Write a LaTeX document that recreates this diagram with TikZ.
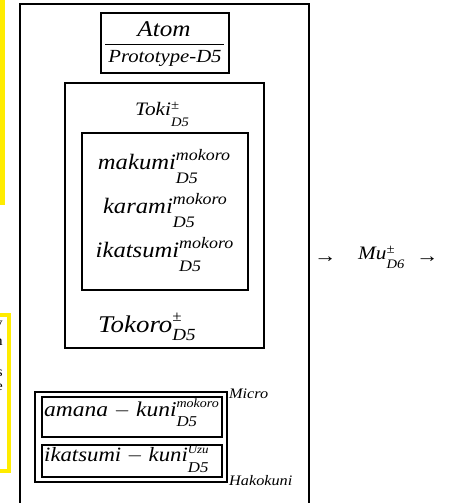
\documentclass[tikz,border=0pt]{standalone}
\usepackage{fontspec}
\setmainfont[FakeStretch=1.12]{Liberation Serif}
\definecolor{hlyellow}{RGB}{255,236,0}
\newcommand\fs[1]{\fontsize{#1}{#1}\selectfont}
% base size, base text, script size, sup, sub, sup raise, sub lower
\newcommand\SupSub[7]{{\fs{#1}\itshape #2}%
  \setbox0=\hbox{\raisebox{#6}{\fs{#3}\itshape #4}}%
  \setbox2=\hbox{\raisebox{-#7}{\fs{#3}\itshape #5}}%
  \ifdim\wd0>\wd2 \rlap{\box2}\box0\else\rlap{\box0}\box2\fi}
% base size, base text, sup size, sup, sub size, sub, sup raise, sub lower
\newcommand\SupSubB[8]{{\fs{#1}\itshape #2}%
  \setbox0=\hbox{\raisebox{#7}{\fs{#3}\itshape #4}}%
  \setbox2=\hbox{\raisebox{-#8}{\fs{#5}\itshape #6}}%
  \ifdim\wd0>\wd2 \rlap{\box2}\box0\else\rlap{\box0}\box2\fi}
\tikzset{
  frame/.style={draw=black, line width=2pt},
  thinframe/.style={draw=black, line width=1.6pt},
  txt/.style={inner sep=0pt, anchor=base, font=\itshape},
  ltxt/.style={inner sep=0pt, anchor=base west, font=\itshape},
}
\begin{document}
\begin{tikzpicture}[x=1pt,y=-1pt]
\clip (0,0) rectangle (448,503);
\fill[white] (0,0) rectangle (448,503);
% yellow fragments at left edge
\fill[hlyellow] (0,0) rectangle (5,205);
\draw[hlyellow, line width=4pt] (-10,315) rectangle (9,471);
\node[inner sep=0pt, anchor=base east, font=\fs{14}] (fy) at (3,327) {y};
\node[inner sep=0pt, anchor=base east, font=\fs{14}] (fn) at (3,345) {n};
\node[inner sep=0pt, anchor=base east, font=\fs{14}] (fs) at (3,376) {s};
\node[inner sep=0pt, anchor=base east, font=\fs{14}] (fe) at (3,390) {e};
% outer box
\draw[frame] (20,4) rectangle (309,520);
% Atom box
\draw[thinframe] (101,13) rectangle (229,73);
\draw[line width=1pt] (105,44.5) -- (224,44.5);
\node[txt, font=\fs{22.5}\itshape] (atom) at (164,37) {Atom};
\node[txt, font=\fs{18.5}\itshape] (proto) at (165,63) {Prototype-D5};
% Toki box
\draw[frame] (65,83) rectangle (264,348);
\node[ltxt] (toki) at (135,115) {\SupSub{19}{Toki}{13}{±}{D5}{6pt}{11pt}};
\draw[frame] (82,133) rectangle (248,290);
\node[txt] (makumi) at (164,169) {\SupSub{22}{makumi}{16}{mokoro}{D5}{9pt}{14pt}};
\node[txt] (karami) at (165,213) {\SupSub{22}{karami}{16}{mokoro}{D5}{9pt}{14pt}};
\node[txt] (ikatsumi) at (164.5,257) {\SupSub{22}{ikatsumi}{16}{mokoro}{D5}{9pt}{14pt}};
\node[ltxt] (tokoro) at (98,332) {\SupSubB{24}{Tokoro}{15}{±}{17}{D5}{11pt}{8pt}};
% Micro / Hakokuni double box
\draw[thinframe] (35,392) rectangle (227,482);
\draw[thinframe] (42,397) rectangle (222,437);
\draw[thinframe] (42,445) rectangle (222,477);
\node[ltxt] (amana) at (44,416) {\SupSubB{21}{amana $-$ kuni}{12.5}{mokoro}{15}{D5}{9pt}{10pt}};
\node[ltxt] (ikakuni) at (44,461) {\SupSubB{20.3}{ikatsumi $-$ kuni}{11.5}{Uzu}{15}{D5}{8pt}{11pt}};
\node[ltxt, font=\fs{14.5}\itshape] (micro) at (229,398) {Micro};
\node[ltxt, font=\fs{14.5}\itshape] (hako) at (229,485) {Hakokuni};
% arrows and Mu
\node[ltxt, font=\fs{20}\upshape] (arr1) at (314,262) {→};
\node[ltxt] (mu) at (358,259) {\SupSub{19}{Mu}{13}{±}{D6}{6pt}{9pt}};
\node[ltxt, font=\fs{20}\upshape] (arr2) at (416,262) {→};
\end{tikzpicture}
\end{document}
